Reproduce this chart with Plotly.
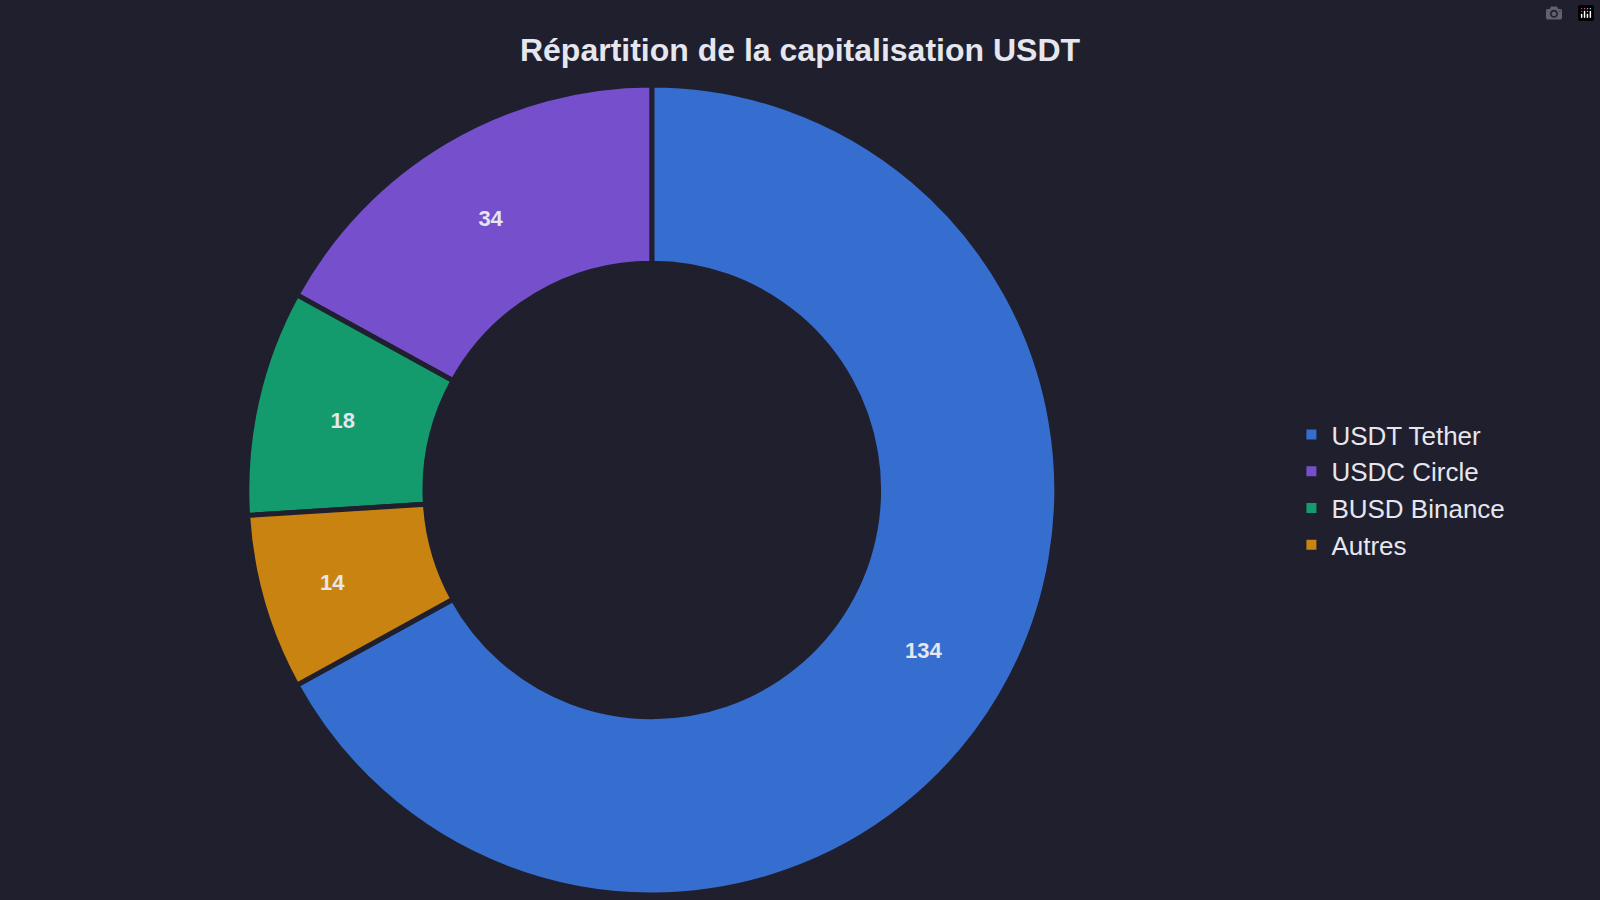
import plotly.graph_objects as go

labels = ['USDT Tether', 'USDC Circle', 'BUSD Binance', 'Autres']
values = [134, 34, 18, 14]
colors = ['#366ed0', '#764fcc', '#139b6e', '#c98311']

bg = '#1f1f2e'

fig = go.Figure(go.Pie(labels=labels, values=values, hole=0.56,
                       marker=dict(colors=colors, line=dict(color=bg, width=5)),
                       textinfo='value', textposition='inside',
                       insidetextfont=dict(color='#e6e6ee', size=22, family='Liberation Sans'),
                       texttemplate='<b>%{value}</b>', sort=False,
                       direction='counterclockwise', domain=dict(x=[0.0, 0.81], y=[0, 1])))

fig.update_layout(
    width=1600, height=900,
    title=dict(text='<b>Répartition de la capitalisation USDT</b>', x=0.5, y=0.957,
               font=dict(size=32, color='#e6e6ee', family='Liberation Sans')),
    paper_bgcolor=bg, plot_bgcolor=bg,
    font=dict(family='Liberation Sans', color='#e6e6ee'),
    legend=dict(font=dict(size=26, color='#e6e6ee'), x=0.815, y=0.5, yanchor='middle',
                itemsizing='constant'),
    margin=dict(t=85, b=5, l=20, r=20),
)

fig.write_html("out.html",
               post_script="document.body.style.margin='0';document.body.style.background='#1f1f2e';")
